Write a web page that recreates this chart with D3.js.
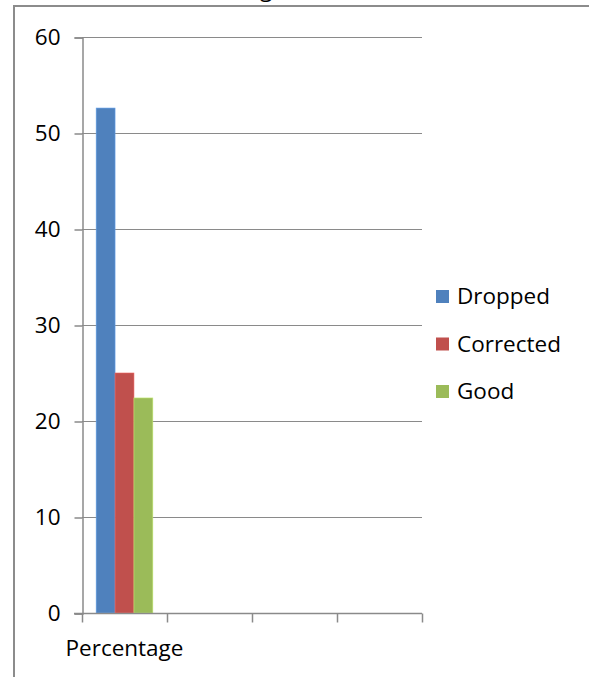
<!DOCTYPE html>
<html>
<head>
<meta charset="utf-8">
<script src="https://cdn.jsdelivr.net/npm/d3@7"></script>
<style>
  html, body { margin: 0; padding: 0; background: #fff; overflow: hidden; }
  svg { display: block; }
  text { font-family: "Open Sans", "Liberation Sans", Arial, sans-serif; fill: #000; }
</style>
</head>
<body>
<svg id="chart" width="589" height="677"></svg>
<script>
const categories = ["Percentage", "", "", ""];
const seriesNames = ["Dropped", "Corrected", "Good"];
const seriesColors = ["#4F81BD", "#C0504D", "#9BBB59"];
const seriesValues = [[52.6], [25.0], [22.4]];
const yTicks = [0, 10, 20, 30, 40, 50, 60];
const titleText = "Percentage";

const FONT = '"Open Sans", "Liberation Sans", Arial, sans-serif';
const FS = 22.5;
const svg = d3.select("#chart");
const W = 589, H = 677;
const plot = { left: 82, right: 422, top: 37, bottom: 613 };

// frame (partly cut off)
svg.append("path")
  .attr("d", `M14,${H} L14,6 L${W + 5},6`)
  .attr("fill", "none").attr("stroke", "#8c8c8c").attr("stroke-width", 2);

// title (cut off above frame)
svg.append("text").attr("x", 167).attr("y", -3)
  .attr("font-size", FS).text(titleText);

const x = d3.scaleBand().domain(categories.map((c, i) => i)).range([plot.left, plot.right]);
const y = d3.scaleLinear().domain([0, 60]).range([plot.bottom, plot.top]);

// gridlines
svg.append("g").selectAll("line").data(yTicks.filter(t => t > 0)).join("line")
  .attr("x1", plot.left).attr("x2", plot.right)
  .attr("y1", d => y(d) + 0.5).attr("y2", d => y(d) + 0.5)
  .attr("stroke", "#8a8a8a").attr("stroke-width", 1);

// y axis
const yAxis = svg.append("g").attr("transform", `translate(${plot.left + 0.5},0.5)`)
  .call(d3.axisLeft(y).tickValues(yTicks).tickSize(8).tickPadding(14));
yAxis.select(".domain").attr("stroke", "#8a8a8a").attr("stroke-width", 1.5);
yAxis.selectAll(".tick line").attr("stroke", "#8a8a8a").attr("stroke-width", 1.5);
yAxis.selectAll(".tick text").attr("font-size", FS)
  .attr("font-family", FONT).attr("fill", "#000");

// bars
const nS = seriesNames.length;
const bw = x.bandwidth() / (nS + 1.5);
const gGroup = svg.append("g");
categories.forEach((c, ci) => {
  seriesNames.forEach((s, si) => {
    const v = seriesValues[si][ci];
    if (v === undefined) return;
    gGroup.append("rect")
      .attr("x", x(ci) + 0.75 * bw + si * bw)
      .attr("y", y(v))
      .attr("width", bw)
      .attr("height", y(0) - y(v))
      .attr("fill", seriesColors[si])
      .attr("stroke", d3.color(seriesColors[si]).brighter(0.6))
      .attr("stroke-width", 0.6);
  });
});

// x axis
const xAxisG = svg.append("g").attr("transform", `translate(0,${plot.bottom + 0.5})`);
xAxisG.append("line").attr("x1", plot.left - 8).attr("x2", plot.right)
  .attr("stroke", "#8a8a8a").attr("stroke-width", 1.5);
const tickPos = categories.map((c, i) => x(i)).concat([plot.right]);
xAxisG.selectAll("line.tk").data(tickPos).join("line").attr("class", "tk")
  .attr("x1", d => d + 0.5).attr("x2", d => d + 0.5).attr("y1", 0).attr("y2", 9)
  .attr("stroke", "#8a8a8a").attr("stroke-width", 1.5);
xAxisG.selectAll("text").data(categories).join("text")
  .attr("x", (d, i) => x(i) + x.bandwidth() / 2)
  .attr("y", 42).attr("text-anchor", "middle").attr("font-size", FS)
  .text(d => d);

// legend
const leg = svg.append("g");
seriesNames.forEach((s, i) => {
  const cy = 296 + i * 47.5;
  leg.append("rect").attr("x", 436).attr("y", cy - 6).attr("width", 13).attr("height", 13)
    .attr("fill", seriesColors[i]);
  leg.append("text").attr("x", 457).attr("y", cy + 8).attr("font-size", FS).text(s);
});
</script>
</body>
</html>
